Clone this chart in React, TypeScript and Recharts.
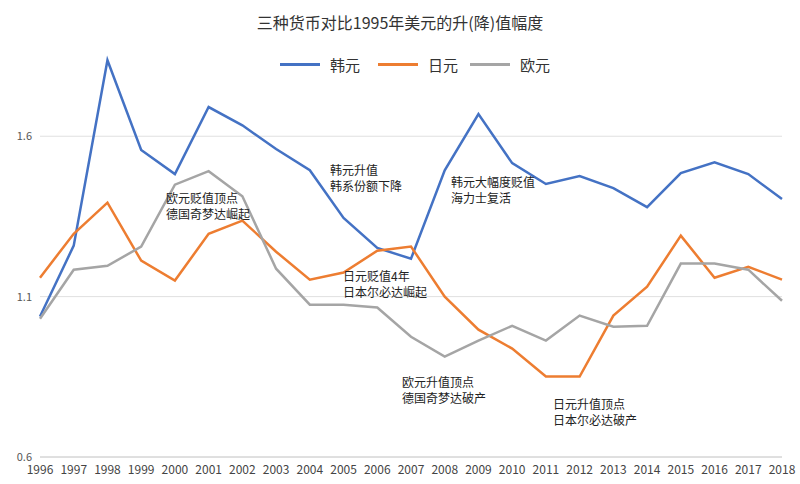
import { LineChart, Line, XAxis, YAxis, CartesianGrid } from 'recharts';

const years = ['1996','1997','1998','1999','2000','2001','2002','2003','2004','2005','2006','2007','2008','2009','2010','2011','2012','2013','2014','2015','2016','2017','2018'];
const krw = [1.038,1.259,1.837,1.557,1.482,1.691,1.634,1.56,1.494,1.345,1.252,1.218,1.494,1.669,1.516,1.451,1.476,1.438,1.379,1.485,1.519,1.482,1.404];
const jpy = [1.159,1.296,1.393,1.212,1.15,1.296,1.337,1.24,1.153,1.175,1.243,1.256,1.1,0.997,0.938,0.851,0.851,1.041,1.131,1.29,1.159,1.193,1.153];
const eur = [1.031,1.184,1.196,1.256,1.449,1.491,1.413,1.187,1.075,1.075,1.066,0.975,0.913,0.963,1.009,0.963,1.041,1.006,1.009,1.203,1.203,1.184,1.087];
const yTicks = [0.6, 1.1, 1.6];

const data = years.map((y, i) => ({ year: y, krw: krw[i], jpy: jpy[i], eur: eur[i] }));

const notes = [
  { x: 330, y: 162, lines: ['韩元升值', '韩系份额下降'] },
  { x: 166, y: 190, lines: ['欧元贬值顶点', '德国奇梦达崛起'] },
  { x: 343, y: 268, lines: ['日元贬值4年', '日本尔必达崛起'] },
  { x: 451, y: 174, lines: ['韩元大幅度贬值', '海力士复活'] },
  { x: 402, y: 374, lines: ['欧元升值顶点', '德国奇梦达破产'] },
  { x: 553, y: 396, lines: ['日元升值顶点', '日本尔必达破产'] },
];

const legend = [
  { x: 280, name: '韩元', color: '#4472C4' },
  { x: 378, name: '日元', color: '#ED7D31' },
  { x: 470, name: '欧元', color: '#A5A5A5' },
];

const font = '"Noto Sans CJK SC", "Noto Sans", sans-serif';

export default function App() {
  return (
    <div style={{ position: 'absolute', left: 0, top: 0, width: 800, height: 484, background: '#fff', fontFamily: font }}>
      <div style={{ position: 'absolute', top: 10, width: 800, textAlign: 'center', fontSize: 16, color: '#333' }}>
        三种货币对比1995年美元的升(降)值幅度
      </div>
      <LineChart width={800} height={484} data={data} margin={{ top: 40, right: 18, left: 10, bottom: 7 }}>
        <CartesianGrid vertical={false} horizontalValues={yTicks} stroke="#e0e0e0" />
        <XAxis dataKey="year" axisLine={{ stroke: '#d0d0d0' }} tickLine={false} tick={{ fontSize: 12, fill: '#444', fontFamily: font }} height={20} />
        <YAxis domain={[0.6, 1.9]} ticks={yTicks} width={30} axisLine={false} tickLine={false} tick={{ fontSize: 11, fill: '#555', fontFamily: font }} />
        <Line dataKey="krw" stroke="#4472C4" strokeWidth={2.5} dot={false} isAnimationActive={false} />
        <Line dataKey="jpy" stroke="#ED7D31" strokeWidth={2.5} dot={false} isAnimationActive={false} />
        <Line dataKey="eur" stroke="#A5A5A5" strokeWidth={2.5} dot={false} isAnimationActive={false} />
      </LineChart>
      {legend.map((l) => (
        <div key={l.name} style={{ position: 'absolute', left: l.x, top: 54, display: 'flex', alignItems: 'center', fontSize: 15, color: '#333' }}>
          <span style={{ display: 'inline-block', width: 40, height: 3, background: l.color, marginRight: 10 }} />
          {l.name}
        </div>
      ))}
      {notes.map((n, i) => (
        <div key={i} style={{ position: 'absolute', left: n.x, top: n.y, fontSize: 12, lineHeight: '16px', color: '#222' }}>
          {n.lines.map((t) => <div key={t}>{t}</div>)}
        </div>
      ))}
    </div>
  );
}
